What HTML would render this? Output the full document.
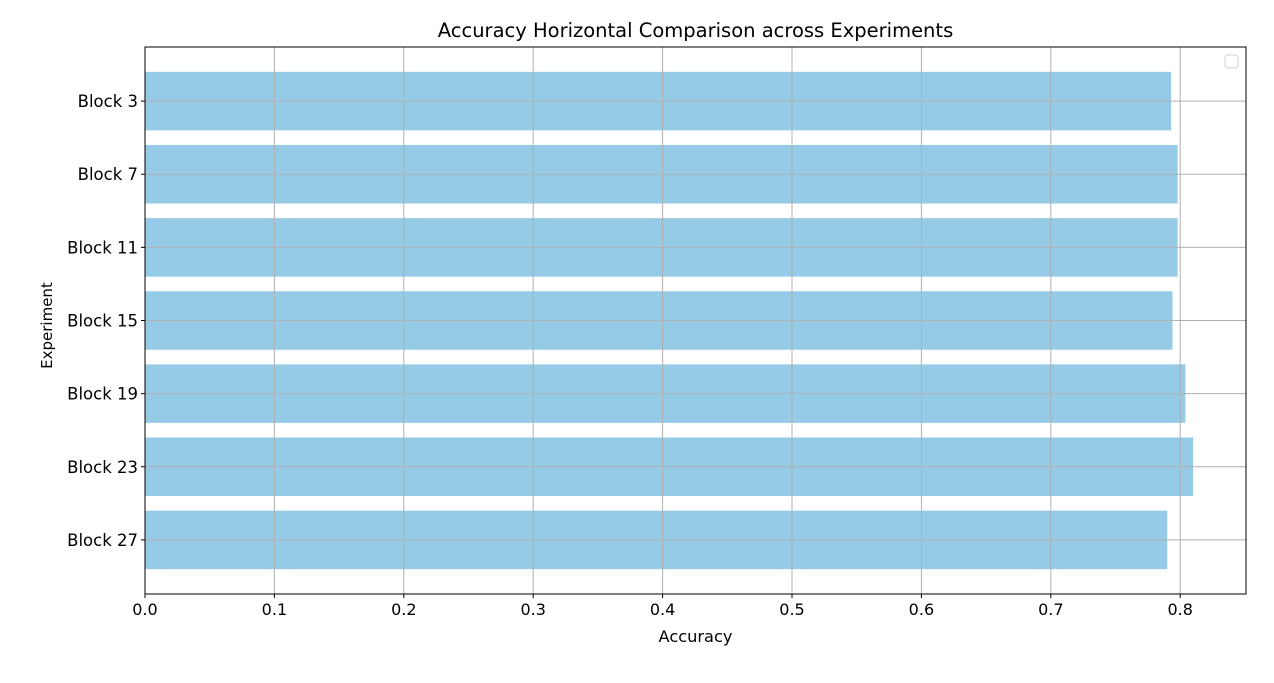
<!DOCTYPE html>
<html><head><meta charset="utf-8"><style>
body{margin:0;background:#fff;font-family:"Liberation Sans","DejaVu Sans",sans-serif;}
svg text{font-family:"DejaVu Sans","Liberation Sans",sans-serif;}
</style></head><body>
<svg id="chart" width="1274" height="678" xmlns="http://www.w3.org/2000/svg">
<rect width="1274" height="678" fill="#fff"/>
<g id="bars"></g><g id="grid"></g><g id="axes"></g>
</svg>
<script>
const categories = ["Block 3","Block 7","Block 11","Block 15","Block 19","Block 23","Block 27"];
const accuracy = [0.793,0.798,0.798,0.794,0.804,0.810,0.790];
const xTicks = [0,0.1,0.2,0.3,0.4,0.5,0.6,0.7,0.8];
const xTickLabels = ["0.0","0.1","0.2","0.3","0.4","0.5","0.6","0.7","0.8"];

const L=145,R=1246,T=47,B=594;
const xMax=(R-L)/1294;
const x=v=>L+v/xMax*(R-L);
const yMin=-0.74,yMax=categories.length-1+0.74;
const y=i=>T+(i-yMin)/(yMax-yMin)*(B-T);
const bw=0.8*(y(1)-y(0));
const NS="http://www.w3.org/2000/svg";
function mk(tag,attrs,parent,text){const e=document.createElementNS(NS,tag);for(const k in attrs)e.setAttribute(k,attrs[k]);if(text!==undefined)e.textContent=text;parent.appendChild(e);return e;}
const gb=document.getElementById('bars'),gg=document.getElementById('grid'),ga=document.getElementById('axes');
categories.forEach((c,i)=>{
  const r=mk('rect',{x:x(0),y:y(i)-bw/2,width:x(accuracy[i])-x(0),height:bw,fill:'#95cbe7'},gb);
  
  
  mk('line',{x1:L,x2:R,y1:y(i),y2:y(i),stroke:'#b0b0b0','stroke-width':1},gg);
  mk('line',{x1:L-4,x2:L,y1:y(i),y2:y(i),stroke:'#000'},ga);
  const t=mk('text',{x:L-7,y:y(i)+6,'text-anchor':'end','font-size':16.5,fill:'#000'},ga,c);
  
  
});
xTicks.forEach((v,i)=>{
  mk('line',{x1:x(v),x2:x(v),y1:T,y2:B,stroke:'#b0b0b0','stroke-width':1},gg);
  mk('line',{x1:x(v),x2:x(v),y1:B,y2:B+4,stroke:'#000'},ga);
  const t=mk('text',{x:x(v),y:B+21,'text-anchor':'middle','font-size':16,fill:'#000'},ga,xTickLabels[i]);
  
  
});
const fr=mk('rect',{x:L,y:T,width:R-L,height:B-T,fill:'none',stroke:'#000','stroke-width':1},ga);


const lg=mk('rect',{x:1225,y:55,width:13,height:13,rx:3,fill:'#fff',stroke:'#d0d0d0'},ga);


const tt=mk('text',{x:(L+R)/2,y:37,'text-anchor':'middle','font-size':19.5,fill:'#000'},ga,'Accuracy Horizontal Comparison across Experiments');


const xt=mk('text',{x:(L+R)/2,y:642,'text-anchor':'middle','font-size':16.2,fill:'#000'},ga,'Accuracy');


const yt=mk('text',{x:52,y:(T+B)/2+5,'text-anchor':'middle','font-size':15,fill:'#000',transform:'rotate(-90 52 '+((T+B)/2+5)+')'},ga,'Experiment');


</script>
</body></html>
